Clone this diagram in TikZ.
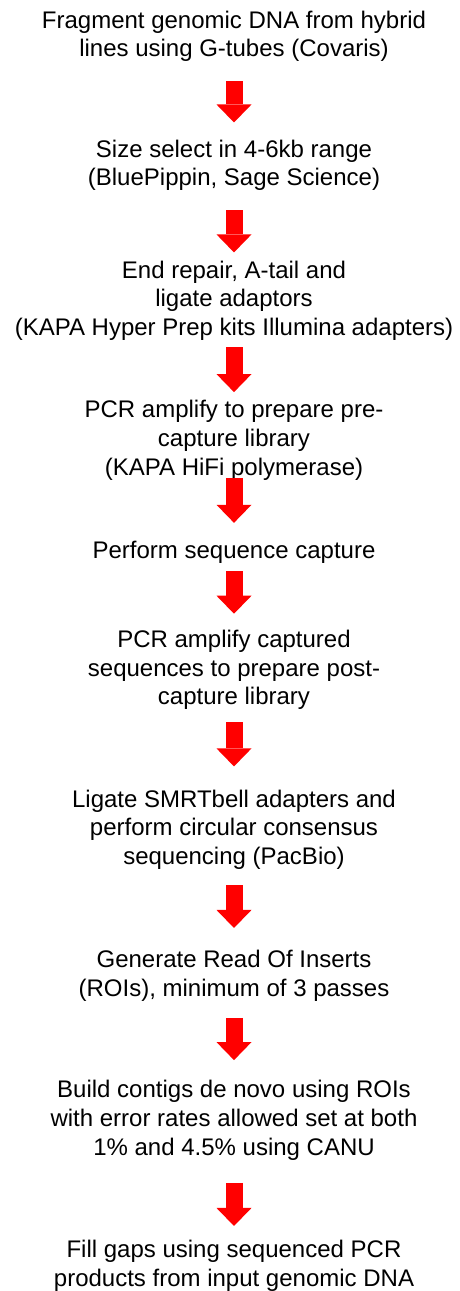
\documentclass[tikz,border=0pt]{standalone}
\usepackage{fontspec}
\setmainfont{Liberation Sans}
\usetikzlibrary{arrows.meta,positioning}

\begin{document}
\begin{tikzpicture}[x=1pt,y=1pt,on grid,
  stepbox/.style ={align=center,inner sep=0pt,font=\fontsize{24}{28.7}\selectfont},
  bigarrow/.style={draw=red,line width=17pt,-{Triangle[width=35pt,length=18pt,line width=0pt]}}]
  \useasboundingbox (0,0) rectangle (460,-1291);

  \node[stepbox]  (frag)                               at (234,-36.3) {Fragment genomic DNA from hybrid\\lines using G-tubes (Covaris)};
  \node[stepbox]  (size)    [below = 129pt of frag]    {Size select in 4-6kb range\\(BluePippin, Sage Science)};
  \node[stepbox]  (repair)  [below = 135.3pt of size]  {End repair, A-tail and\\ligate adaptors\\(KAPA Hyper Prep kits Illumina adapters)};
  \node[stepbox]  (prepcr)  [below = 139.7pt of repair] {PCR amplify to prepare pre-\\capture library\\(KAPA HiFi polymerase)};
  \node[stepbox]  (capture) [below = 112pt of prepcr]  {Perform sequence capture};
  \node[stepbox]  (postpcr) [below = 117.6pt of capture] {PCR amplify captured\\sequences to prepare post-\\capture library};
  \node[stepbox]  (smrt)    [below = 159.7pt of postpcr] {Ligate SMRTbell adapters and\\perform circular consensus\\sequencing (PacBio)};
  \node[stepbox]  (roi)     [below = 146.2pt of smrt]  {Generate Read Of Inserts\\(ROIs), minimum of 3 passes};
  \node[stepbox]  (contig)  [below = 144.5pt of roi]   {Build contigs de novo using ROIs\\with error rates allowed set at both\\1\% and 4.5\% using CANU};
  \node[stepbox]  (gaps)    [below = 145.5pt of contig] {Fill gaps using sequenced PCR\\products from input genomic DNA};

  \path (frag)    edge [bigarrow, shorten <=19.4pt, shorten >=17.1pt]  (size);
  \path (size)    edge [bigarrow, shorten <=19.4pt, shorten >=8.1pt]   (repair);
  \path (repair)  edge [bigarrow, shorten <=6.4pt,  shorten >=8.1pt]   (prepcr);
  \path (prepcr)  edge [bigarrow, shorten <=-2.6pt, shorten >=18.1pt]  (capture);
  \path (capture) edge [bigarrow, shorten <=7.4pt,  shorten >=16.1pt]  (postpcr);
  \path (postpcr) edge [bigarrow, shorten <=12.4pt, shorten >=23.1pt]  (smrt);
  \path (smrt)    edge [bigarrow, shorten <=15.4pt, shorten >=22.1pt]  (roi);
  \path (roi)     edge [bigarrow, shorten <=16.4pt, shorten >=20.1pt]  (contig);
  \path (contig)  edge [bigarrow, shorten <=22.4pt, shorten >=14.1pt]  (gaps);
\end{tikzpicture}
\end{document}
